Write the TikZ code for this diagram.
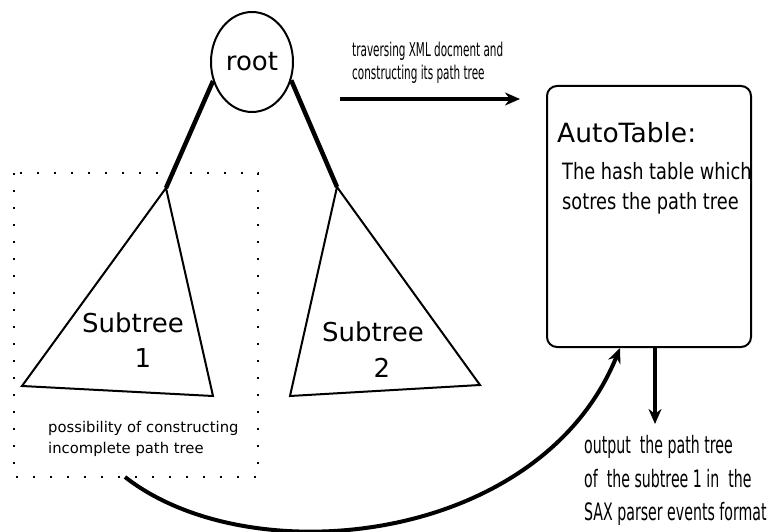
\documentclass[tikz,border=0pt]{standalone}
\usepackage{fontspec}
\setmainfont{DejaVu Sans}
\usetikzlibrary{shapes.geometric,arrows.meta}
\newcommand{\sq}[2]{\scalebox{#1}[1]{#2}}
\begin{document}
\begin{tikzpicture}[x=1pt,y=-1pt,
  big/.style={font=\fontsize{26}{30}\selectfont, inner sep=0pt},
  thickedge/.style={line width=4.5pt},
  tri/.style={line width=2pt, line join=miter},
  fat/.style={line width=4pt, -{Stealth[length=15pt,width=13pt]}},
  dotbox/.style={line width=2.4pt, dash pattern=on 2.4pt off 14.6pt},
  lbl/.style={inner sep=0pt, anchor=base west}
]
\useasboundingbox (0,0) rectangle (772,532);

% root
\node[big, draw, line width=2pt, ellipse, minimum width=82pt, minimum height=100pt] (root) at (252,62) {root};

% subtree apexes
\coordinate (ap1) at (166,188);
\coordinate (ap2) at (337,187);
\draw[thickedge] (root.206) -- (ap1);
\draw[thickedge] (root.335) -- (ap2);

% triangles
\draw[tri] (ap1) -- (22,386) -- (213,396) -- cycle;
\draw[tri] (ap2) -- (290,396) -- (480,385) -- cycle;
\node[big] (s1) at (133,323) {Subtree};
\node[big] (s1n) at (143,358) {1};
\node[big] (s2) at (373,332) {Subtree};
\node[big] (s2n) at (382,368) {2};

% dotted box
\draw[dotbox] (14,173) rectangle (258,477);
\node[lbl, font=\fontsize{14.8}{21}\selectfont] (poss1) at (48,432) {possibility of constructing};
\node[lbl, font=\fontsize{14.8}{21}\selectfont] (poss2) at (48,453) {incomplete path tree};

% top arrow
\node[lbl, font=\fontsize{19}{23}\selectfont] (trav1) at (352,57) {\sq{0.55}{traversing XML docment and}};
\node[lbl, font=\fontsize{19}{23}\selectfont] (trav2) at (352,80) {\sq{0.55}{constructing its path tree}};
\coordinate (t0) at (340,99);
\coordinate (t1) at (520,99);
\draw[fat] (t0) -- (t1);

% AutoTable box
\node[draw, line width=2pt, rounded corners=10pt, minimum width=204pt, minimum height=261pt, inner sep=0pt] (table) at (649,216.5) {};
\node[lbl, font=\fontsize{26.5}{30}\selectfont] (at) at (557,143) {AutoTable:};
\node[lbl, font=\fontsize{22.5}{30}\selectfont] (hash1) at (562,180) {\sq{0.79}{The hash table which}};
\node[lbl, font=\fontsize{22.5}{30}\selectfont] (hash2) at (562,210) {\sq{0.79}{sotres the path tree}};

% output arrow and text
\coordinate (o1) at (655,424);
\draw[fat] (table.south -| o1) -- (o1);
\node[lbl, font=\fontsize{24}{33}\selectfont] (out1) at (584,453) {\sq{0.59}{output\ \ the path tree}};
\node[lbl, font=\fontsize{24}{33}\selectfont] (out2) at (584,487) {\sq{0.59}{of\ \ the subtree 1 in\ \ the}};
\node[lbl, font=\fontsize{24}{33}\selectfont] (out3) at (584,520) {\sq{0.59}{SAX parser events format}};

% curved arrow
\coordinate (c0) at (125,477);
\coordinate (c1) at (620,348);
\draw[fat] (c0) .. controls (250,575) and (540,545) .. (c1);
\end{tikzpicture}
\end{document}
